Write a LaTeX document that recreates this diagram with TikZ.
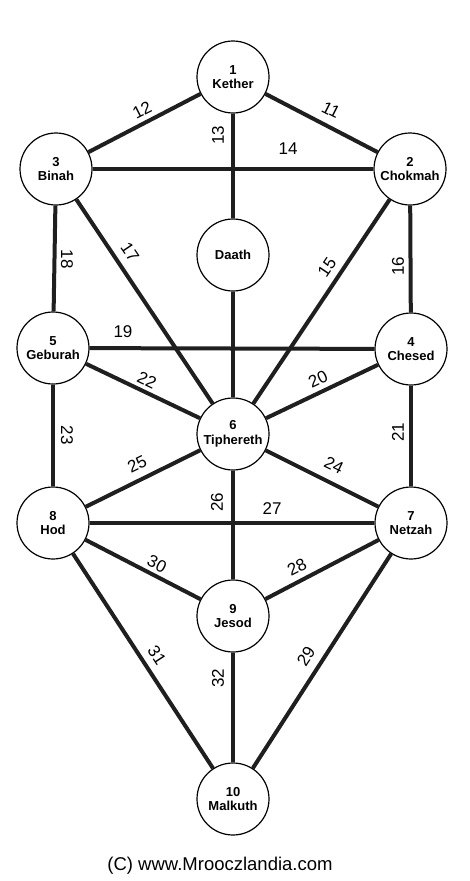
\documentclass[tikz,border=0pt]{standalone}
\usepackage{fontspec}
\setmainfont{Liberation Sans}
\usetikzlibrary{positioning}

\begin{document}
\begin{tikzpicture}[
  x=1pt, y=-1pt,
  channel/.style={line width=4pt, draw=black!88},
  sefira/.style={circle, draw=black, line width=1.2pt, fill=white,
                 minimum size=72pt, inner sep=0pt, align=center,
                 font=\fontsize{13}{14.5}\selectfont\bfseries},
  num/.style={font=\fontsize{17}{17}\selectfont, inner sep=0pt},
  credit/.style={font=\fontsize{18.5}{18.5}\selectfont, inner sep=0pt}
]
\useasboundingbox (0,0) rectangle (469,881);

% ---------- sefirot ----------
\node[sefira] (kether)    at (233,77)  {1\\Kether};
\node[sefira] (binah)     at (56,169)  {3\\Binah};
\node[sefira] (chokmah)   at (410,169) {2\\Chokmah};
\node[sefira] (daath)     at (233,255) {Daath};
\node[sefira] (geburah)   at (53,348)  {5\\Geburah};
\node[sefira] (chesed)    at (411,349) {4\\Chesed};
\node[sefira] (tiphereth) at (233,434) {6\\Tiphereth};
\node[sefira] (hod)       at (53,523)  {8\\Hod};
\node[sefira] (netzah)    at (411,523) {7\\Netzah};
\node[sefira] (jesod)     at (233,616) {9\\Jesod};
\node[sefira] (malkuth)   at (233,799) {10\\Malkuth};

% ---------- paths ----------
\draw[channel] (kether) -- (binah);
\draw[channel] (kether) -- (chokmah);
\draw[channel] (kether) -- (daath);
\draw[channel] (daath) -- (tiphereth);
\draw[channel] (binah) -- (chokmah);
\draw[channel] (binah) -- (geburah);
\draw[channel] (binah) -- (tiphereth);
\draw[channel] (chokmah) -- (chesed);
\draw[channel] (chokmah) -- (tiphereth);
\draw[channel] (geburah) -- (chesed);
\draw[channel] (geburah) -- (tiphereth);
\draw[channel] (chesed) -- (tiphereth);
\draw[channel] (geburah) -- (hod);
\draw[channel] (chesed) -- (netzah);
\draw[channel] (tiphereth) -- (hod);
\draw[channel] (tiphereth) -- (netzah);
\draw[channel] (tiphereth) -- (jesod);
\draw[channel] (hod) -- (netzah);
\draw[channel] (hod) -- (jesod);
\draw[channel] (netzah) -- (jesod);
\draw[channel] (hod) -- (malkuth);
\draw[channel] (netzah) -- (malkuth);
\draw[channel] (jesod) -- (malkuth);

% ---------- path numbers ----------
\node[num, rotate=-27]   (p11) at (331,110) {11};
\node[num, rotate=27]    (p12) at (142,110) {12};
\node[num, rotate=90]    (p13) at (218,135) {13};
\node[num]               (p14) at (288,149) {14};
\node[num, rotate=56]    (p15) at (327,267) {15};
\node[num, rotate=90]    (p16) at (398,266) {16};
\node[num, rotate=-56]   (p17) at (130,252) {17};
\node[num, rotate=-90]   (p18) at (67,259)  {18};
\node[num]               (p19) at (123,332) {19};
\node[num, rotate=25.5]  (p20) at (318,379) {20};
\node[num, rotate=90]    (p21) at (398,432) {21};
\node[num, rotate=-25.5] (p22) at (147,380) {22};
\node[num, rotate=-90]   (p23) at (67,435)  {23};
\node[num, rotate=-26]   (p24) at (334,465) {24};
\node[num, rotate=26]    (p25) at (137,464) {25};
\node[num, rotate=90]    (p26) at (217,502) {26};
\node[num]               (p27) at (272,509) {27};
\node[num, rotate=27]    (p28) at (297,567) {28};
\node[num, rotate=57]    (p29) at (306,656) {29};
\node[num, rotate=-27]   (p30) at (157,564) {30};
\node[num, rotate=-57]   (p31) at (157,655) {31};
\node[num, rotate=90]    (p32) at (218,678) {32};

% ---------- credit ----------
\node[credit] (credit) at (220,866) {(C) www.Mrooczlandia.com};

\end{tikzpicture}
\end{document}
